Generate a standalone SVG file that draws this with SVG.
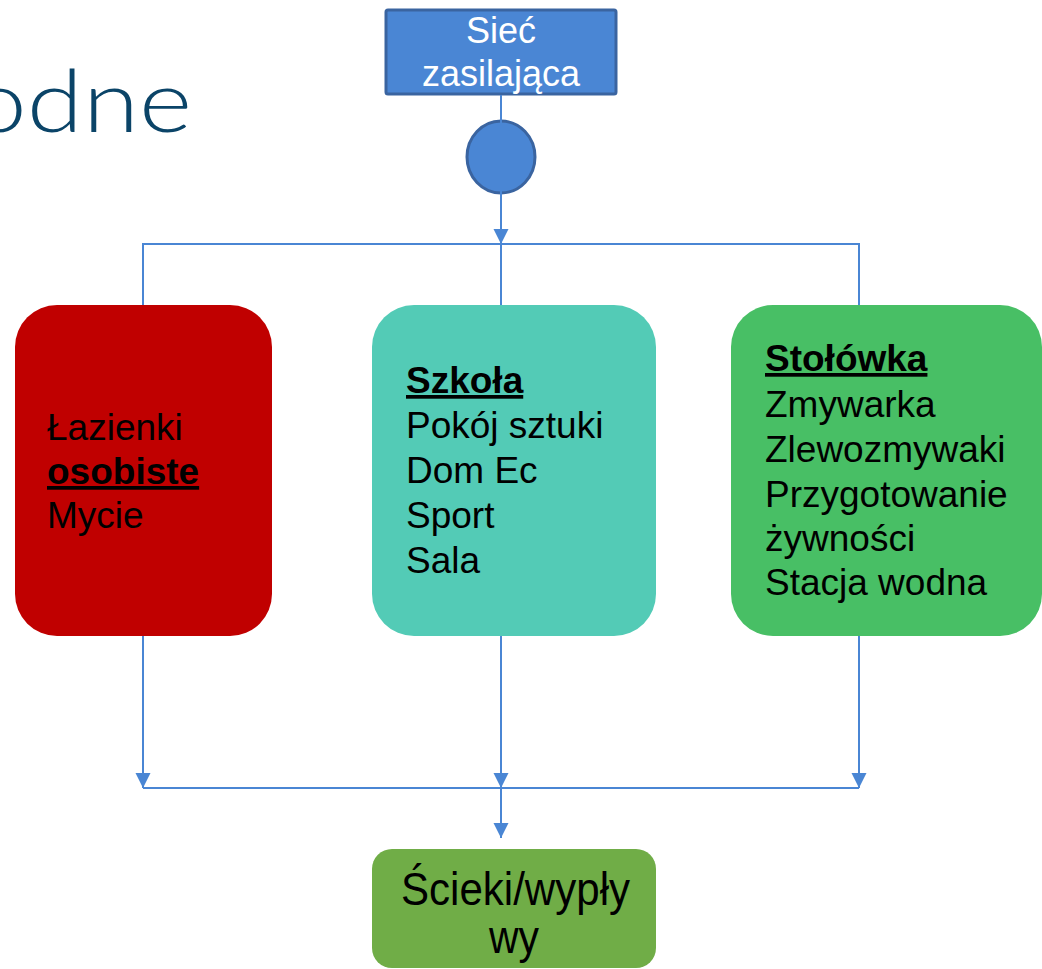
<svg xmlns="http://www.w3.org/2000/svg" width="1042" height="969" viewBox="0 0 1042 969">
<style>
.t{font-family:"Liberation Sans",Arial,sans-serif;font-size:37px;fill:#000}
.h{font-weight:bold;text-decoration:underline}
.w{font-family:"Liberation Sans",Arial,sans-serif;font-size:36px;fill:#fff}
.c{fill:none;stroke:#4a86d4;stroke-width:2}
</style>
<defs>
<marker id="ar" viewBox="0 0 10 10" refX="10" refY="5" markerWidth="15" markerHeight="16" markerUnits="userSpaceOnUse" orient="auto">
<path d="M0,0 L10,5 L0,10 z" fill="#4a86d4"/>
</marker>
</defs>
<rect width="1042" height="969" fill="#fff"/>
<text x="-30" y="132" textLength="222" lengthAdjust="spacingAndGlyphs" style="font-family:Lato,'Open Sans',sans-serif;font-weight:300;font-size:86px;fill:#0b4468">odne</text>
<g id="siec">
<rect x="386" y="10" width="230" height="84" rx="2" fill="#4a86d4" stroke="#3a64a0" stroke-width="3"/>
<text class="w" x="501" y="43" text-anchor="middle">Sieć</text>
<text class="w" x="501" y="86" text-anchor="middle">zasilająca</text>
</g>
<g id="zawor">
<ellipse cx="501" cy="157" rx="34" ry="36" fill="#4a86d4" stroke="#3a64a0" stroke-width="3"/>
</g>
<g id="lazienki">
<rect x="15" y="305" width="257" height="331" rx="42" fill="#c00000"/>
<text class="t" x="47" y="440">Łazienki</text>
<text class="t h" x="47" y="484">osobiste</text>
<text class="t" x="47" y="528">Mycie</text>
</g>
<g id="szkola">
<rect x="372" y="305" width="284" height="331" rx="42" fill="#53cbb6"/>
<text class="t h" x="406" y="393">Szkoła</text>
<text class="t" x="406" y="438">Pokój sztuki</text>
<text class="t" x="406" y="483">Dom Ec</text>
<text class="t" x="406" y="528">Sport</text>
<text class="t" x="406" y="573">Sala</text>
</g>
<g id="stolowka">
<rect x="731" y="305" width="311" height="331" rx="42" fill="#48bf65"/>
<text class="t h" x="765" y="371">Stołówka</text>
<text class="t" x="765" y="417">Zmywarka</text>
<text class="t" x="765" y="462">Zlewozmywaki</text>
<text class="t" x="765" y="507">Przygotowanie</text>
<text class="t" x="765" y="551">żywności</text>
<text class="t" x="765" y="595">Stacja wodna</text>
</g>
<g id="scieki">
<rect x="372" y="849" width="284" height="119" rx="20" fill="#70ad47"/>
<text class="t" x="401" y="905" textLength="229" lengthAdjust="spacingAndGlyphs" style="font-size:46px">Ścieki/wypły</text>
<text class="t" x="489" y="953" textLength="50" lengthAdjust="spacingAndGlyphs" style="font-size:46px">wy</text>
</g>
<g id="connectors">
<path class="c" d="M501 95 V244" marker-end="url(#ar)"/>
<path class="c" d="M143 305 V244 H859 V305 M501 244 V305"/>
<path class="c" d="M143 636 V788" marker-end="url(#ar)"/>
<path class="c" d="M501 636 V788" marker-end="url(#ar)"/>
<path class="c" d="M859 636 V788" marker-end="url(#ar)"/>
<path class="c" d="M143 788 H859"/>
<path class="c" d="M501 788 V838" marker-end="url(#ar)"/>
</g>
</svg>
